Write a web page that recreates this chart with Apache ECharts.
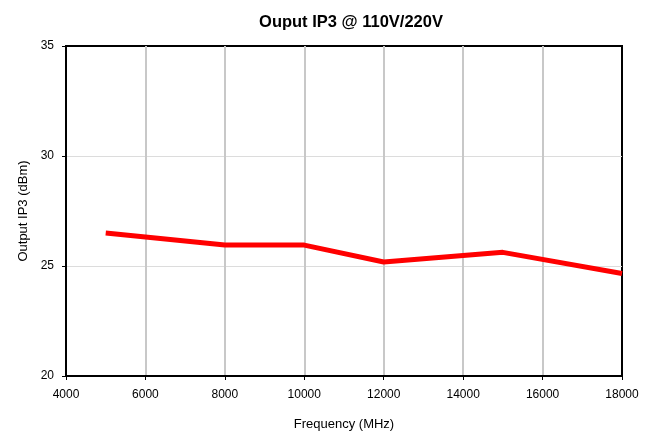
<!DOCTYPE html>
<html><head><meta charset="utf-8">
<script src="https://cdn.jsdelivr.net/npm/echarts@6/dist/echarts.min.js"></script>
<style>html,body{margin:0;padding:0;background:#fff}#c{width:653px;height:436px}</style>
</head><body><div id="c"></div>
<script>
const freq = [5000, 8000, 10000, 12000, 15000, 18000];
const ip3 = [26.5, 25.95, 25.95, 25.18, 25.62, 24.66];
const xTicks = [4000, 6000, 8000, 10000, 12000, 14000, 16000, 18000];
const yTicks = [20, 25, 30, 35];
const font = 'Liberation Sans, Arial, sans-serif';
const chart = echarts.init(document.getElementById('c'));
chart.setOption({
  animation: false,
  title: {text: 'Ouput IP3 @ 110V/220V', left: 346, textAlign: 'center', top: 9,
    textStyle: {fontFamily: font, fontSize: 16.5, fontWeight: 'bold', color: '#000'}},
  grid: {left: 66, right: 31, top: 46, bottom: 59, show: true, borderColor: '#000', borderWidth: 2, backgroundColor: 'transparent'},
  xAxis: {type: 'value', min: xTicks[0], max: xTicks[xTicks.length-1], interval: 2000,
    name: 'Frequency (MHz)', nameLocation: 'middle', nameGap: 42,
    nameTextStyle: {fontFamily: font, fontSize: 13, color: '#000'},
    axisLine: {show: true, lineStyle: {color: '#000', width: 2}},
    axisTick: {show: true, length: 4, lineStyle: {color: '#000', width: 1}},
    axisLabel: {fontFamily: font, fontSize: 12, color: '#000', margin: 13, formatter: v => String(v)},
    splitLine: {show: true, showMinLine: false, showMaxLine: false, lineStyle: {color: '#c8c8c8', width: 2}}},
  yAxis: {type: 'value', min: yTicks[0], max: yTicks[yTicks.length-1], interval: 5,
    name: 'Output IP3 (dBm)', nameLocation: 'middle', nameGap: 36,
    nameTextStyle: {fontFamily: font, fontSize: 13, color: '#000'},
    axisLine: {show: true, lineStyle: {color: '#000', width: 2}},
    axisTick: {show: true, length: 4, lineStyle: {color: '#000', width: 1}},
    axisLabel: {fontFamily: font, fontSize: 12, color: '#000', margin: 12},
    splitLine: {show: true, showMinLine: false, showMaxLine: false, lineStyle: {color: '#dcdcdc', width: 1}}},
  series: [{type: 'line', data: freq.map((f, i) => [f, ip3[i]]), showSymbol: false, symbol: 'none',
    lineStyle: {color: '#ff0000', width: 5}, z: 5}]
});
</script></body></html>
